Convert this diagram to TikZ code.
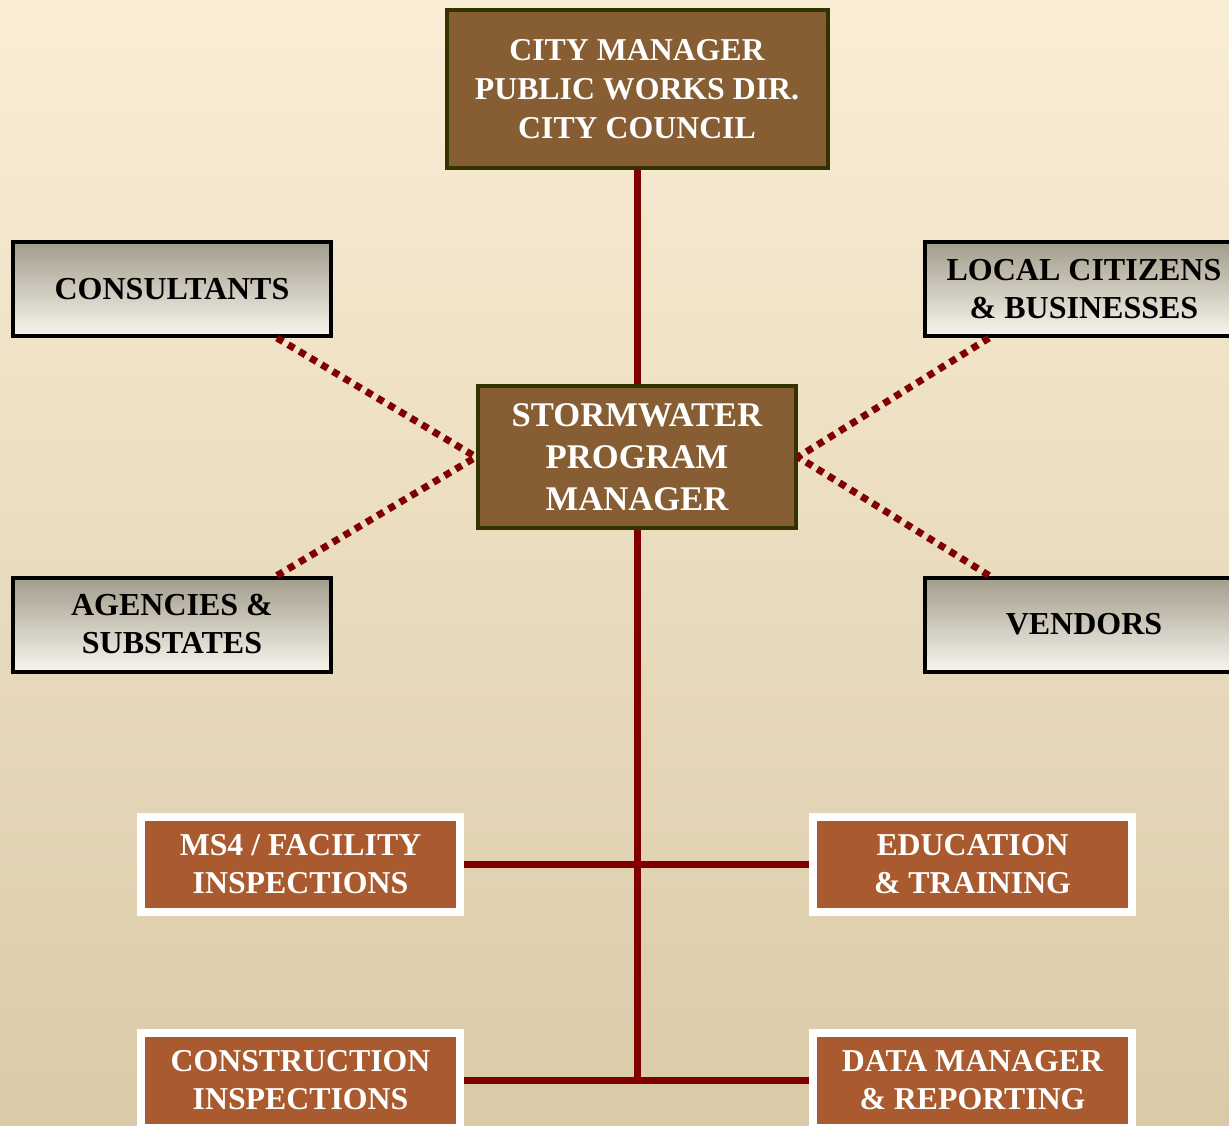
\documentclass[tikz,border=0pt]{standalone}
\usepackage{fontspec}
\setmainfont{Liberation Serif}
\usetikzlibrary{positioning}

\definecolor{bgtop}{HTML}{FAEDD5}
\definecolor{bgbot}{HTML}{D9CBA8}
\definecolor{mgrfill}{HTML}{875E33}
\definecolor{mgrline}{HTML}{333300}
\definecolor{unitfill}{HTML}{A95B2F}
\definecolor{linkred}{HTML}{800000}
\definecolor{partop}{HTML}{A29C8C}
\definecolor{parbot}{HTML}{F9F5EC}

\tikzset{
	mgr/.style={draw=mgrline, fill=mgrfill, line width=2pt, text=white, align=center},
	partner/.style={draw=black, top color=partop, bottom color=parbot, line width=2pt,
		minimum width=159pt, minimum height=47pt, align=center,
		font=\fontsize{16}{19}\selectfont\bfseries},
	unit/.style={draw=white, fill=unitfill, line width=4pt, text=white,
		minimum width=159.5pt, minimum height=47.5pt, align=center,
		font=\fontsize{15.9}{19}\selectfont\bfseries},
	solid link/.style={draw=linkred, line width=3.5pt},
	loose link/.style={draw=linkred, line width=3.5pt, dash pattern=on 3.5pt off 3pt}
}

\begin{document}
\begin{tikzpicture}[x=0.5pt, y=-0.5pt]
	\useasboundingbox (0,0) rectangle (1229,1125);
	\clip (0,0) rectangle (1229,1125);
	\shade[top color=bgtop, bottom color=bgbot] (0,0) rectangle (1229,1125);

	\node (council) [mgr, minimum width=190.5pt, minimum height=79pt,
		font=\fontsize{15.9}{19.5}\selectfont\bfseries] at (637,89)
		{CITY MANAGER\\PUBLIC WORKS DIR.\\CITY COUNCIL};
	\node (swpm) [mgr, minimum width=159pt, minimum height=71pt,
		font=\fontsize{17.3}{21}\selectfont\bfseries] at (637,457)
		{STORMWATER\\PROGRAM\\MANAGER};

	\node (consult) [partner] at (172,289) {CONSULTANTS};
	\node (agency) [partner] at (172,624.5) {AGENCIES \&\\SUBSTATES};
	\node (citizen) [partner] at (1084,289) {LOCAL CITIZENS\\\& BUSINESSES};
	\node (vendor) [partner] at (1084,624.5) {VENDORS};

	\node (ms4) [unit] at (300.5,864.5) {MS4 / FACILITY\\INSPECTIONS};
	\node (edu) [unit] at (972.5,864.5) {EDUCATION\\\& TRAINING};
	\node (constr) [unit] at (300.5,1080.5) {CONSTRUCTION\\INSPECTIONS};
	\node (data) [unit] at (972.5,1080.5) {DATA MANAGER\\\& REPORTING};

	\coordinate (trunk) at (swpm.south |- constr.east);

	\path
		(council.south) edge [solid link] (swpm.north)
		(swpm.south) edge [solid link] (trunk)
		(ms4.east) edge [solid link] (edu.west)
		(constr.east) edge [solid link] (data.west)
	;
	\path
		([xshift=-28pt]consult.south east) edge [loose link] (swpm.west)
		([xshift=-28pt]agency.north east) edge [loose link] (swpm.west)
		([xshift=33pt]citizen.south west) edge [loose link] (swpm.east)
		([xshift=33pt]vendor.north west) edge [loose link] (swpm.east)
	;
\end{tikzpicture}
\end{document}
